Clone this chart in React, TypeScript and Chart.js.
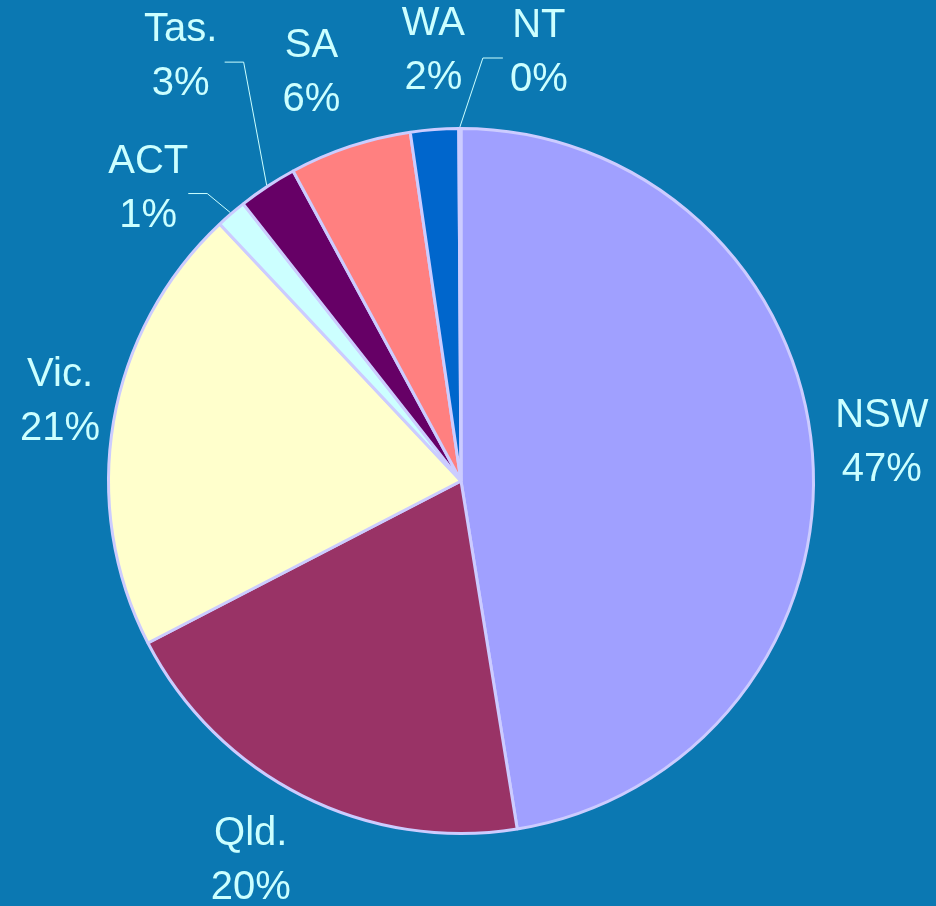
import React, { useEffect, useRef } from "react";
import { Chart, registerables } from "chart.js";

Chart.register(...registerables);

const categories = ["NSW", "Qld.", "Vic.", "ACT", "Tas.", "SA", "WA", "NT"];
const shares = [47.45, 19.95, 20.6, 1.4, 2.7, 5.6, 2.2, 0.1];
const sliceColors = ["#a0a0ff", "#993366", "#ffffcc", "#ccffff", "#660066", "#ff8080", "#0066cc", "#ccccff"];

// label placement relative to the outer midpoint of each slice (px)
const labelOffsets: [number, number][] = [
  [68, -10], [-51, 64], [-52, -19], [-82, -24], [-86, -128], [-38, -72], [-1, -77], [79, -74],
];
// leader line points relative to the outer midpoint of the slice
const leaderLines: ([number, number][] | null)[] = [
  null, null, null,
  [[-23, -19], [-42, -19]],
  [[-23, -123], [-42, -123]],
  null, null,
  [[23, -69], [43, -69]],
];

const BG = "#0b78b2";
const TEXT = "#ccffff";

export default function App() {
  const ref = useRef<HTMLCanvasElement | null>(null);
  useEffect(() => {
    document.body.style.margin = "0";
    const canvas = ref.current!;
    const labelPlugin = {
      id: "labels",
      beforeDraw(chart: any) {
        const ctx = chart.ctx;
        ctx.save();
        ctx.fillStyle = BG;
        ctx.fillRect(0, 0, chart.width, chart.height);
        ctx.restore();
      },
      afterDatasetsDraw(chart: any) {
        const ctx = chart.ctx;
        const meta = chart.getDatasetMeta(0);
        const data = chart.data.datasets[0].data as number[];
        const total = data.reduce((a, b) => a + b, 0);
        ctx.save();
        ctx.font = "40px 'Liberation Sans', Arial, sans-serif";
        ctx.fillStyle = TEXT;
        ctx.strokeStyle = TEXT;
        ctx.lineWidth = 1;
        ctx.textAlign = "center";
        ctx.textBaseline = "middle";
        meta.data.forEach((arc: any, i: number) => {
          const p = arc.getProps(["x", "y", "startAngle", "endAngle", "outerRadius"], true);
          const mid = (p.startAngle + p.endAngle) / 2;
          const r = p.outerRadius + 1.5;
          const ax = p.x + Math.cos(mid) * r;
          const ay = p.y + Math.sin(mid) * r;
          const lines = leaderLines[i];
          if (lines) {
            ctx.beginPath();
            ctx.moveTo(ax, ay);
            lines.forEach(([dx, dy]) => ctx.lineTo(ax + dx, ay + dy));
            ctx.stroke();
          }
          const [ox, oy] = labelOffsets[i];
          const cx = ax + ox;
          const cy = ay + oy;
          const pct = Math.round((data[i] / total) * 100) + "%";
          ctx.fillText(categories[i], cx, cy - 27);
          ctx.fillText(pct, cx, cy + 27);
        });
        ctx.restore();
      },
    };
    const chart = new Chart(canvas, {
      type: "pie",
      data: {
        labels: categories,
        datasets: [
          {
            data: shares,
            backgroundColor: sliceColors,
            borderColor: "#ccccff",
            borderWidth: 3,
          },
        ],
      },
      options: {
        responsive: false,
        animation: false,
        devicePixelRatio: 1,
        layout: { padding: { left: 107, right: 121, top: 127, bottom: 71 } },
        plugins: {
          legend: { display: false },
          tooltip: { enabled: false },
        },
      },
      plugins: [labelPlugin],
    });
    return () => chart.destroy();
  }, []);
  return (
    <div style={{ width: 936, height: 906 }}>
      <canvas ref={ref} width={936} height={906} style={{ display: "block" }} />
    </div>
  );
}
